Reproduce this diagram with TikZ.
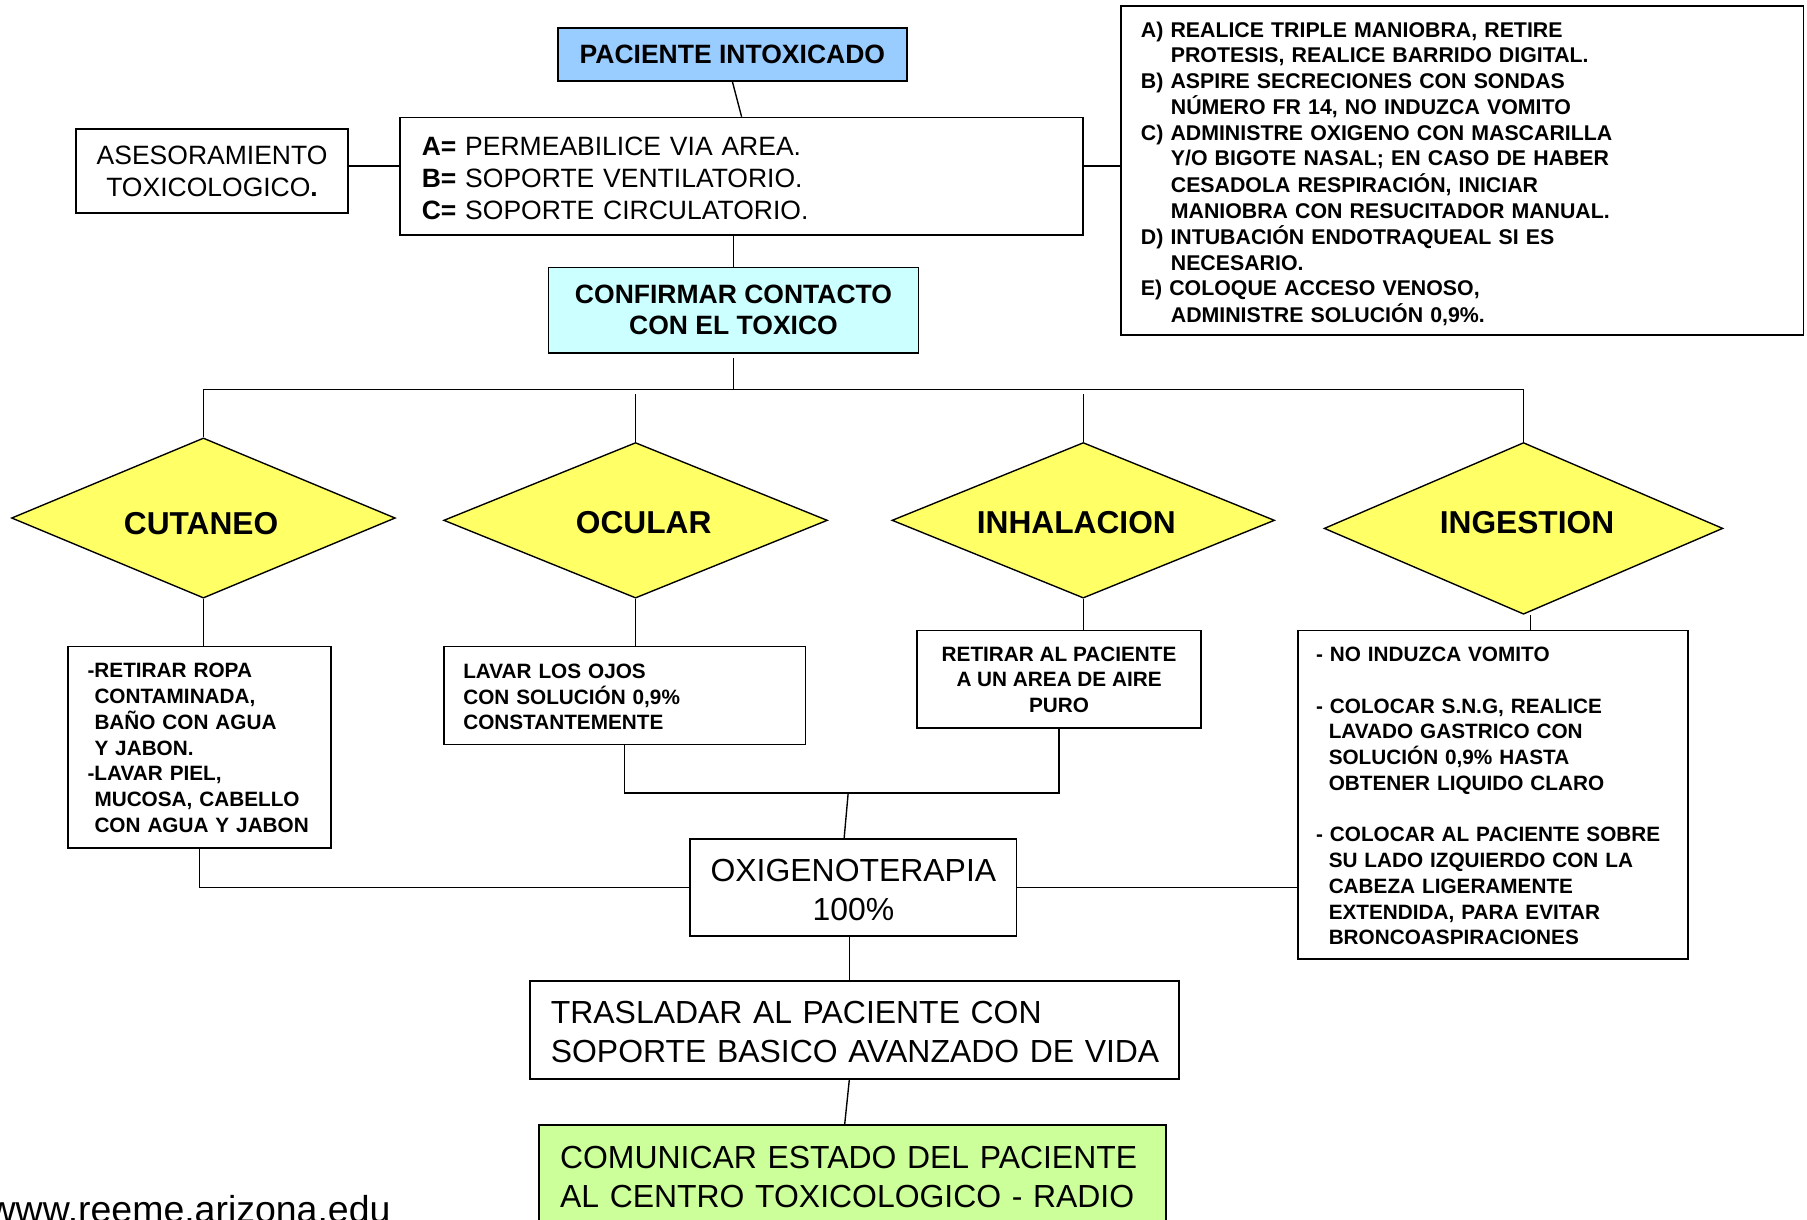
\documentclass[tikz,border=0pt]{standalone}
\usepackage{fontspec}
\setmainfont{Liberation Sans}
\usetikzlibrary{shapes.geometric,calc}
\definecolor{cblue}{HTML}{99CCFF}
\definecolor{ccyan}{HTML}{CCFFFF}
\definecolor{cyel}{HTML}{FFFF66}
\definecolor{cgreen}{HTML}{CCFF99}
\newcommand{\dnb}[2]{\raisebox{0pt}[\dimexpr\height+#1\relax][\depth]{#2}}
\newcommand{\upb}[2]{\raisebox{0pt}[\height][\dimexpr\depth+#1\relax]{#2}}
\begin{document}
\begin{tikzpicture}[x=1pt,y=-1pt,
  box/.style={draw, line width=1.5pt, inner sep=0pt},
  link/.style={line width=1.2pt},
  dia/.style={diamond, shape aspect=2.4, draw, line width=1.2pt, fill=cyel, inner sep=0pt, font=\bfseries\fontsize{27.5}{30}\selectfont},
  big/.style={font=\fontsize{23}{28}\selectfont},
  bigb/.style={font=\bfseries\fontsize{23}{27}\selectfont},
  huge/.style={font=\fontsize{27.7}{33.5}\selectfont},
  sm/.style={font=\bfseries\fontsize{18}{22.3}\selectfont},
  insf/.style={font=\bfseries\fontsize{18.5}{22.2}\selectfont}]

\useasboundingbox (0,0) rectangle (1568,1058);

% top
\node[box, fill=cblue, bigb, minimum width=303, minimum height=46] (pac) at (635.5,47) {PACIENTE INTOXICADO};
\node[box, big, minimum width=593, minimum height=102, text width=555, align=left] (abc) at (643.5,153)
  {\dnb{8pt}{\begin{tabular}{@{}l@{}}\textbf{A=} PERMEABILICE VIA AREA.\\\textbf{B=} SOPORTE VENTILATORIO.\\\textbf{C=} SOPORTE CIRCULATORIO.\end{tabular}}};
\node[box, big, minimum width=236, minimum height=73, align=center] (ases) at (184,148.5) {ASESORAMIENTO\\TOXICOLOGICO\textbf{.}};
\node[box, insf, minimum width=592, minimum height=286, text width=558, align=left] (rbox) at (1269,148)
  {\dnb{7pt}{\begin{tabular}{@{}l@{}}
  A) REALICE TRIPLE MANIOBRA, RETIRE\\
  \hspace*{26pt}PROTESIS, REALICE BARRIDO DIGITAL.\\
  B) ASPIRE SECRECIONES CON SONDAS\\
  \hspace*{26pt}NÚMERO FR 14, NO INDUZCA VOMITO\\
  C) ADMINISTRE OXIGENO CON MASCARILLA\\
  \hspace*{26pt}Y/O BIGOTE NASAL; EN CASO DE HABER\\
  \hspace*{26pt}CESADOLA RESPIRACIÓN, INICIAR\\
  \hspace*{26pt}MANIOBRA CON RESUCITADOR MANUAL.\\
  D) INTUBACIÓN ENDOTRAQUEAL SI ES\\
  \hspace*{26pt}NECESARIO.\\
  E) COLOQUE ACCESO VENOSO,\\
  \hspace*{26pt}ADMINISTRE SOLUCIÓN 0,9\%.
  \end{tabular}}};
\node[box, fill=ccyan, bigb, minimum width=321, minimum height=74, align=center] (conf) at (636.5,269) {CONFIRMAR CONTACTO\\CON EL TOXICO};

% diamonds
\node[dia, minimum width=333, minimum height=139] (cut) at (176.5,449.5) {\dnb{10pt}{CUTANEO}\hspace*{4pt}};
\node[dia, minimum width=333, minimum height=135] (ocu) at (551.5,451.5) {\hspace*{14pt}\dnb{4pt}{OCULAR}};
\node[dia, minimum width=332, minimum height=135] (inh) at (940,451.5) {\dnb{4pt}{INHALACION}\hspace*{12pt}};
\node[dia, minimum width=346, minimum height=149] (ing) at (1322,458.5) {\hspace*{6pt}\upb{10pt}{INGESTION}};

% action boxes
\node[box, sm, minimum width=228, minimum height=175, text width=194, align=left] (cutb) at (173,648.5)
  {\dnb{4pt}{\begin{tabular}{@{}l@{}}
  -RETIRAR ROPA\\
  \hspace*{6pt}CONTAMINADA,\\
  \hspace*{6pt}BAÑO CON AGUA\\
  \hspace*{6pt}Y JABON.\\
  -LAVAR PIEL,\\
  \hspace*{6pt}MUCOSA, CABELLO\\
  \hspace*{6pt}CON AGUA Y JABON
  \end{tabular}}};
\node[box, sm, minimum width=314, minimum height=85, text width=280, align=left] (ocub) at (542,603.5)
  {\dnb{6pt}{\begin{tabular}{@{}l@{}}LAVAR LOS OJOS\\CON SOLUCIÓN 0,9\%\\CONSTANTEMENTE\end{tabular}}};
\node[box, sm, minimum width=246, minimum height=85, align=center] (inhb) at (919,589.5)
  {\dnb{4pt}{\begin{tabular}{@{}c@{}}RETIRAR AL PACIENTE\\A UN AREA DE AIRE\\PURO\end{tabular}}};
\node[box, sm, minimum width=339, minimum height=285, text width=307, align=left] (ingb) at (1295.5,689.5)
  {\dnb{6pt}{\begin{tabular}{@{}l@{}}
  - NO INDUZCA VOMITO\\[22.3pt]
  - COLOCAR S.N.G, REALICE\\
  \hspace*{11pt}LAVADO GASTRICO CON\\
  \hspace*{11pt}SOLUCIÓN 0,9\% HASTA\\
  \hspace*{11pt}OBTENER LIQUIDO CLARO\\[22.3pt]
  - COLOCAR AL PACIENTE SOBRE\\
  \hspace*{11pt}SU LADO IZQUIERDO CON LA\\
  \hspace*{11pt}CABEZA LIGERAMENTE\\
  \hspace*{11pt}EXTENDIDA, PARA EVITAR\\
  \hspace*{11pt}BRONCOASPIRACIONES
  \end{tabular}}};

% bottom
\node[box, huge, minimum width=283, minimum height=84, align=center] (oxi) at (740.5,770)
  {\dnb{10pt}{\begin{tabular}{@{}c@{}}OXIGENOTERAPIA\\100\%\end{tabular}}};
\node[box, huge, minimum width=563, minimum height=85, text width=527, align=left] (tras) at (741.5,893.5)
  {\dnb{10pt}{\begin{tabular}{@{}l@{}}TRASLADAR AL PACIENTE CON\\SOPORTE BASICO AVANZADO DE VIDA\end{tabular}}};
\node[box, fill=cgreen, huge, minimum width=544, minimum height=86, text width=508, align=left] (com) at (740,1019)
  {\dnb{10pt}{\begin{tabular}{@{}l@{}}COMUNICAR ESTADO DEL PACIENTE\\AL CENTRO TOXICOLOGICO - RADIO\end{tabular}}};
\node[anchor=base west, inner sep=0pt, font=\fontsize{32.5}{36}\selectfont] (web) at (-10,1061) {www.reeme.arizona.edu};

% connectors
\coordinate (bus) at (634,338);
\coordinate (merge) at (736,688);
\draw[link] (pac.south) -- (abc.north);
\draw[link] ([yshift=4.5pt]ases.east) -- ([yshift=4.5pt]ases.east -| abc.west);
\draw[link] ([yshift=9pt]abc.east) -- ([yshift=9pt]abc.east -| rbox.west);
\draw[link] (abc.south -| conf.north) -- (conf.north);
\draw[link] ($(conf.south)+(0,4)$) -- (conf.south |- bus);
\draw[link] (cut.north) -- (cut.north |- bus) -- (ing.north |- bus) -- (ing.north);
\draw[link] ($(ocu.north |- bus)+(0,4)$) -- (ocu.north);
\draw[link] ($(inh.north |- bus)+(0,4)$) -- (inh.north);
\draw[link] (cut.south) -- (cut.south |- cutb.north);
\draw[link] (ocu.south) -- (ocu.south |- ocub.north);
\draw[link] (inh.south) -- (inh.south |- inhb.north);
\draw[link] ($(ing.south)+(6,0)$) -- ($(ing.south |- ingb.north)+(6,0)$);
\draw[link] (ocub.south) -- (ocub.south |- merge) -- (inhb.south |- merge) -- (inhb.south);
\draw[link] (merge) -- ($(oxi.north)+(-8,0)$);
\draw[link] (cutb.south) |- (oxi.west);
\draw[link] (oxi.east) -- (oxi.east -| ingb.west);
\draw[link] ($(oxi.south)+(-3.5,0)$) -- ($(oxi.south |- tras.north)+(-3.5,0)$);
\draw[link] ($(tras.south)+(-4.5,0)$) -- ($(com.north)+(-7,0)$);
\end{tikzpicture}
\end{document}
